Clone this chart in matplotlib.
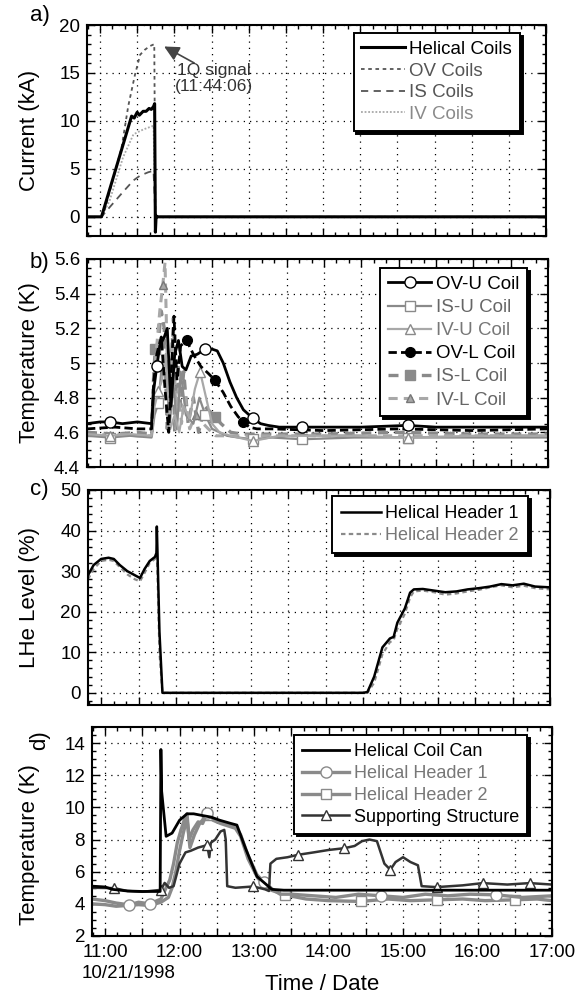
import matplotlib
matplotlib.use("Agg")
import matplotlib.pyplot as plt
import matplotlib.ticker as mticker

plt.rcParams['font.family'] = ['Liberation Sans', 'DejaVu Sans']

# ---------------- data (time in decimal hours) ----------------
# a) coil currents (kA)
t_hel = [10.825, 11.02, 11.425, 11.46, 11.50, 11.53, 11.58, 11.62, 11.66, 11.69, 11.72, 11.735, 11.745, 11.755, 11.77, 17.0]
i_hel = [0, 0, 10.5, 10.3, 10.9, 10.6, 11.0, 11.0, 11.3, 11.2, 11.5, 11.8, -1.6, 0.1, 0, 0]
t_ov = [10.825, 11.02, 11.07, 11.29, 11.38, 11.47, 11.54, 11.60, 11.67, 11.73, 11.745, 11.77, 17.0]
i_ov = [0, 0, 0.9, 7.2, 11.55, 14.8, 16.9, 17.4, 17.8, 18.0, 0.2, 0, 0]
t_is = [10.825, 11.02, 11.13, 11.31, 11.45, 11.54, 11.65, 11.72, 11.745, 11.77, 17.0]
i_is = [0, 0, 1.0, 2.6, 3.8, 4.3, 4.65, 4.8, 0.1, 0, 0]
t_iv = [10.825, 11.02, 11.13, 11.31, 11.45, 11.58, 11.72, 11.745, 11.77, 17.0]
i_iv = [0, 0, 1.7, 6.2, 8.6, 9.1, 9.5, 0.1, 0, 0]

# b) coil temperatures (K)
t_ovu = [10.825, 11.0, 11.13, 11.3, 11.5, 11.69, 11.72, 11.76, 11.80, 11.86, 11.90, 11.95, 12.00, 12.05, 12.10, 12.15, 12.22, 12.30, 12.41, 12.50, 12.57, 12.65, 12.74, 12.83, 12.92, 13.05, 13.15, 13.25, 13.4, 13.71, 14.0, 14.5, 15.12, 15.5, 16.0, 16.5, 17.0]
T_ovu = [4.65, 4.66, 4.66, 4.65, 4.66, 4.65, 4.85, 4.98, 5.10, 5.15, 5.20, 4.75, 5.05, 5.13, 4.98, 4.96, 5.04, 5.05, 5.08, 5.08, 5.07, 5.00, 4.89, 4.80, 4.73, 4.68, 4.65, 4.64, 4.63, 4.63, 4.63, 4.63, 4.64, 4.63, 4.63, 4.63, 4.63]
t_isu = [10.825, 11.13, 11.4, 11.69, 11.73, 11.78, 11.83, 11.88, 11.93, 11.98, 12.03, 12.08, 12.15, 12.25, 12.33, 12.41, 12.5, 12.6, 12.7, 12.85, 13.05, 13.3, 13.71, 14.4, 15.12, 16.0, 17.0]
T_isu = [4.58, 4.57, 4.58, 4.57, 4.70, 4.77, 5.00, 5.05, 4.62, 4.90, 4.62, 4.95, 4.70, 4.65, 4.80, 4.70, 4.62, 4.60, 4.58, 4.57, 4.56, 4.57, 4.56, 4.57, 4.57, 4.57, 4.57]
t_ivu = [10.825, 11.13, 11.4, 11.69, 11.73, 11.78, 11.83, 11.88, 11.94, 12.0, 12.06, 12.12, 12.2, 12.27, 12.34, 12.42, 12.5, 12.6, 12.75, 13.05, 13.4, 14.4, 15.12, 16.0, 17.0]
T_ivu = [4.59, 4.58, 4.59, 4.58, 4.75, 4.84, 4.90, 5.05, 4.62, 4.70, 4.60, 4.75, 4.68, 4.85, 4.95, 4.80, 4.65, 4.60, 4.58, 4.55, 4.58, 4.58, 4.57, 4.58, 4.58]
t_ovl = [10.825, 11.2, 11.5, 11.69, 11.72, 11.76, 11.82, 11.87, 11.92, 11.96, 11.99, 12.03, 12.08, 12.16, 12.25, 12.35, 12.45, 12.54, 12.65, 12.75, 12.85, 12.92, 13.0, 13.1, 13.3, 14.0, 15.0, 16.0, 17.0]
T_ovl = [4.62, 4.63, 4.62, 4.62, 4.90, 5.05, 5.15, 4.85, 4.60, 5.00, 5.27, 4.90, 5.10, 5.13, 5.05, 4.98, 4.94, 4.90, 4.83, 4.75, 4.69, 4.66, 4.63, 4.62, 4.62, 4.61, 4.62, 4.61, 4.62]
t_isl = [10.825, 11.2, 11.5, 11.69, 11.72, 11.74, 11.78, 11.82, 11.86, 11.90, 11.93, 11.97, 12.0, 12.04, 12.08, 12.12, 12.18, 12.25, 12.32, 12.40, 12.47, 12.54, 12.62, 12.75, 12.9, 13.2, 14.0, 15.0, 16.0, 17.0]
T_isl = [4.60, 4.59, 4.60, 4.59, 4.95, 5.08, 5.12, 5.30, 5.20, 4.62, 4.80, 5.15, 4.60, 5.00, 4.75, 4.95, 4.65, 4.80, 4.60, 4.75, 4.72, 4.69, 4.65, 4.60, 4.59, 4.59, 4.59, 4.60, 4.59, 4.59]
t_ivl = [10.825, 11.2, 11.5, 11.69, 11.72, 11.76, 11.80, 11.84, 11.87, 11.89, 11.92, 11.95, 11.98, 12.02, 12.05, 12.09, 12.14, 12.2, 12.28, 12.36, 12.45, 12.55, 12.7, 13.0, 14.0, 15.0, 16.0, 17.0]
T_ivl = [4.58, 4.59, 4.58, 4.58, 4.90, 5.10, 5.30, 5.45, 5.58, 5.20, 4.60, 4.85, 5.26, 4.62, 4.85, 4.65, 4.80, 4.62, 4.70, 4.66, 4.62, 4.58, 4.58, 4.58, 4.58, 4.58, 4.58, 4.58]

# c) LHe level (%)
t_lhe = [10.825, 10.9, 11.0, 11.1, 11.17, 11.25, 11.35, 11.45, 11.52, 11.58, 11.65, 11.72, 11.74, 11.745, 11.76, 11.78, 11.82, 12.5, 13.5, 14.5, 14.56, 14.65, 14.76, 14.86, 14.91, 14.96, 15.06, 15.13, 15.18, 15.3, 15.45, 15.6, 15.75, 15.9, 16.05, 16.2, 16.35, 16.5, 16.65, 16.8, 17.0]
L_lhe1 = [29, 31.5, 33, 33.3, 33.0, 31.5, 30.0, 29.0, 28.3, 30.5, 32.5, 33.5, 34.5, 41, 30, 15, 0, 0, 0, 0, 0.2, 4, 11.2, 13.4, 13.8, 17.3, 20.8, 24.7, 25.5, 25.6, 25.2, 24.8, 25.0, 25.5, 25.8, 26.2, 26.8, 26.5, 26.9, 26.2, 26.0]
L_lhe2 = [28, 30.5, 32.5, 32.8, 32.5, 31, 29.2, 28.0, 27.5, 29.5, 32, 33, 33.5, 35, 25, 10, 0, 0, 0, 0, 0, 2.5, 9.5, 12.5, 13, 15.8, 19.5, 23.5, 25, 25.2, 24.8, 24.2, 24.5, 25.0, 25.4, 26.0, 26.5, 26.0, 26.4, 25.8, 25.5]

# d) structure temperatures (K)
t_can = [10.825, 11.0, 11.1, 11.3, 11.5, 11.74, 11.75, 11.76, 11.82, 11.9, 12.0, 12.1, 12.19, 12.3, 12.42, 12.54, 12.69, 12.77, 12.89, 13.04, 13.14, 13.24, 13.4, 14.0, 15.0, 16.0, 17.0]
T_can = [5.1, 5.05, 4.9, 4.8, 4.77, 4.77, 13.6, 11.0, 8.2, 8.4, 9.2, 9.6, 9.6, 9.5, 9.4, 9.2, 9.0, 8.9, 7.4, 5.7, 5.3, 4.9, 4.85, 4.85, 4.85, 4.85, 4.85]
t_hh1 = [10.825, 11.0, 11.15, 11.32, 11.45, 11.6, 11.75, 11.82, 11.87, 11.92, 11.97, 12.02, 12.07, 12.10, 12.13, 12.18, 12.25, 12.31, 12.37, 12.45, 12.55, 12.65, 12.75, 12.82, 12.92, 13.04, 13.14, 13.25, 13.35, 13.5, 13.8, 14.1, 14.4, 14.71, 15.0, 15.3, 15.6, 15.9, 16.25, 16.6, 17.0]
T_hh1 = [4.3, 4.2, 4.05, 3.94, 4.1, 4.0, 4.3, 5.0, 5.5, 6.5, 7.8, 8.6, 9.3, 9.6, 8.0, 8.6, 9.1, 9.0, 9.64, 9.3, 9.1, 8.95, 8.8, 8.3, 7.0, 5.8, 5.33, 4.9, 4.6, 4.6, 4.5, 4.4, 4.6, 4.5, 4.4, 4.6, 4.5, 4.6, 4.56, 4.4, 4.5]
t_hh2 = [10.825, 11.0, 11.15, 11.3, 11.45, 11.6, 11.75, 11.85, 11.9, 11.95, 12.0, 12.05, 12.1, 12.14, 12.2, 12.27, 12.37, 12.45, 12.55, 12.65, 12.75, 12.82, 12.92, 13.05, 13.2, 13.41, 13.7, 14.0, 14.43, 14.8, 15.1, 15.45, 15.8, 16.1, 16.5, 16.8, 17.0]
T_hh2 = [4.0, 3.95, 3.85, 3.9, 3.95, 3.9, 4.1, 4.4, 5.0, 6.0, 7.3, 8.4, 9.3, 7.5, 8.3, 9.0, 9.54, 9.2, 9.0, 8.85, 8.7, 8.2, 6.8, 5.6, 4.9, 4.56, 4.3, 4.2, 4.15, 4.3, 4.2, 4.25, 4.3, 4.2, 4.25, 4.3, 4.2]
t_sup = [10.825, 11.12, 11.3, 11.5, 11.75, 11.8, 11.86, 11.92, 12.0, 12.08, 12.15, 12.25, 12.33, 12.37, 12.40, 12.42, 12.48, 12.55, 12.60, 12.62, 12.64, 12.75, 12.99, 13.15, 13.2, 13.22, 13.3, 13.45, 13.59, 13.8, 14.0, 14.21, 14.35, 14.45, 14.55, 14.65, 14.75, 14.83, 14.9, 15.0, 15.1, 15.2, 15.25, 15.45, 15.8, 16.07, 16.4, 16.7, 17.0]
T_sup = [5.0, 4.98, 4.8, 4.75, 4.87, 5.3, 5.0, 5.1, 6.5, 7.2, 7.3, 7.5, 7.6, 7.67, 6.9, 7.8, 8.0, 8.5, 8.6, 8.0, 5.1, 5.0, 5.08, 4.9, 4.8, 6.5, 6.8, 6.9, 7.05, 7.2, 7.35, 7.46, 7.6, 7.9, 8.0, 7.9, 6.5, 6.12, 6.6, 6.9, 6.6, 6.4, 5.1, 5.04, 5.15, 5.29, 5.2, 5.29, 5.2]

hour_labels = ['11:00', '12:00', '13:00', '14:00', '15:00', '16:00', '17:00']
date_label = '10/21/1998'

# ---------------- figure ----------------
W, H = 578, 994
fig = plt.figure(figsize=(W / 100, H / 100), dpi=100)

def rect(l, r, t, b):
    return [l / W, 1 - b / H, (r - l) / W, (b - t) / H]

GRAY = '#8a8a8a'
LGRAY = '#a8a8a8'
TICKFS = 13.5
LABFS = 16
LEGFS = 13.5
ANNFS = 12.5

def style(ax, ylim, ymaj, ymin, xlabels=False):
    ax.set_xlim(10.825, 17.0)
    ax.set_ylim(*ylim)
    ax.xaxis.set_major_locator(mticker.MultipleLocator(0.5))
    ax.xaxis.set_minor_locator(mticker.MultipleLocator(1 / 6))
    ax.yaxis.set_major_locator(mticker.MultipleLocator(ymaj))
    ax.yaxis.set_minor_locator(mticker.MultipleLocator(ymin))
    ax.tick_params(which='both', direction='in', top=True, right=True, labelsize=TICKFS, width=1.0)
    ax.tick_params(which='major', length=6)
    ax.tick_params(which='minor', length=3)
    ax.tick_params(axis='y', pad=5)
    ax.grid(True, which='major', color='black', linestyle=(0, (1, 4)), linewidth=0.9)
    for s in ax.spines.values():
        s.set_linewidth(1.5)
    if xlabels:
        def fmt(v, pos):
            if abs(v - round(v)) < 1e-6 and 11 <= round(v) <= 17:
                return hour_labels[int(round(v)) - 11]
            return ''
        ax.xaxis.set_major_formatter(mticker.FuncFormatter(fmt))
    else:
        ax.xaxis.set_major_formatter(mticker.NullFormatter())

def make_legend(ax, handles, labels, anchor, colors, spacing, pad=0.45, hl=2.4, fs=LEGFS):
    leg = ax.legend(handles, labels, loc='upper right', bbox_to_anchor=anchor, fontsize=fs,
                    fancybox=False, edgecolor='black', framealpha=1,
                    shadow={'color': 'black', 'alpha': 1.0}, handlelength=hl,
                    labelspacing=spacing, borderpad=pad, handletextpad=0.25, borderaxespad=0)
    leg.get_frame().set_linewidth(1.4)
    for txt, c in zip(leg.get_texts(), colors):
        txt.set_color(c)
    return leg

def ordered(ax, want):
    h, l = ax.get_legend_handles_labels()
    return [h[l.index(w)] for w in want], want

def ylabel(ax, text, x_px, y_px=None):
    ax.set_ylabel(text, fontsize=LABFS)
    bb = ax.get_position()
    xa = (x_px / W - bb.x0) / bb.width
    ya = 0.5 if y_px is None else ((1 - y_px / H) - bb.y0) / bb.height
    ax.yaxis.set_label_coords(xa, ya)

# ---- a) ----
ax1 = fig.add_axes(rect(87, 546, 25, 236))
ax1.plot(t_iv, i_iv, color=LGRAY, lw=1.3, linestyle=(0, (1, 1)), label='IV Coils')
ax1.plot(t_is, i_is, color='#555555', lw=1.3, linestyle=(0, (4, 3)), label='IS Coils')
ax1.plot(t_ov, i_ov, color='#555555', lw=1.3, linestyle=(0, (2, 2)), label='OV Coils')
ax1.plot(t_hel, i_hel, color='black', lw=2.2, label='Helical Coils')
style(ax1, (-2, 20), 5, 1)
ax1.yaxis.set_major_formatter(mticker.FuncFormatter(lambda v, p: f'{v:g}'))
hh, ll = ordered(ax1, ['Helical Coils', 'OV Coils', 'IS Coils', 'IV Coils'])
make_legend(ax1, hh, ll, (0.943, 0.962), ['black', '#555555', '#555555', '#8a8a8a'], 0.24, pad=0.42, hl=2.3)
ylabel(ax1, 'Current (kA)', 40)
ax1.annotate('', xy=(11.83, 17.9), xytext=(12.30, 15.9),
             arrowprops=dict(arrowstyle='-|>,head_length=0.9,head_width=0.45', color='#444444', lw=1.2))
ax1.text(12.53, 14.4, '1Q signal\n(11:44:06)', fontsize=ANNFS, color='#333333', ha='center', va='center',
         linespacing=1.1)

# ---- b) ----
ax2 = fig.add_axes(rect(87, 548, 259, 467))
ax2.plot(t_isl, T_isl, color=GRAY, lw=2.4, linestyle=(0, (3, 2)), marker='s', ms=6.5, mfc=GRAY, mec=GRAY,
         markevery=[5, 21], label='IS-L Coil')
ax2.plot(t_ivl, T_ivl, color=LGRAY, lw=2.2, linestyle=(0, (3, 2)), marker='^', ms=6, mfc=LGRAY, mec='#777777',
         markevery=[7, 18], label='IV-L Coil')
ax2.plot(t_isu, T_isu, color=GRAY, lw=1.6, marker='s', ms=7, mfc='white', mec=GRAY,
         markevery=[1, 5, 15, 20, 22, 24], label='IS-U Coil')
ax2.plot(t_ivu, T_ivu, color=LGRAY, lw=1.6, marker='^', ms=7, mfc='white', mec=GRAY,
         markevery=[1, 5, 14, 19, 22], label='IV-U Coil')
ax2.plot(t_ovl, T_ovl, color='black', lw=2.0, linestyle=(0, (3, 1.5)), marker='o', ms=7, mfc='black', mec='black',
         markevery=[13, 17, 21], label='OV-L Coil')
ax2.plot(t_ovu, T_ovu, color='black', lw=2.0, marker='o', ms=8, mfc='white', mec='black',
         markevery=[2, 7, 18, 25, 29, 32], label='OV-U Coil')
style(ax2, (4.4, 5.6), 0.2, 0.05)
ax2.yaxis.set_major_formatter(mticker.FuncFormatter(lambda v, p: f'{v:.1f}'.rstrip('0').rstrip('.')))
hh, ll = ordered(ax2, ['OV-U Coil', 'IS-U Coil', 'IV-U Coil', 'OV-L Coil', 'IS-L Coil', 'IV-L Coil'])
make_legend(ax2, hh, ll, (0.955, 0.957), ['black', '#666666', '#777777', 'black', '#666666', '#666666'],
            0.32, pad=0.42, hl=2.3)
ylabel(ax2, 'Temperature (K)', 40)

# ---- c) ----
ax3 = fig.add_axes(rect(88, 550, 490, 705))
ax3.plot(t_lhe, L_lhe2, color=GRAY, lw=1.6, linestyle=(0, (2, 1.5)), label='Helical Header 2')
ax3.plot(t_lhe, L_lhe1, color='black', lw=1.8, label='Helical Header 1')
style(ax3, (-3, 50), 10, 2)
ax3.yaxis.set_major_formatter(mticker.FuncFormatter(lambda v, p: f'{v:g}'))
hh, ll = ordered(ax3, ['Helical Header 1', 'Helical Header 2'])
make_legend(ax3, hh, ll, (0.952, 0.972), ['black', '#777777'], 0.3, pad=0.5, hl=2.2, fs=13)
ylabel(ax3, 'LHe Level (%)', 40)

# ---- d) ----
ax4 = fig.add_axes(rect(92, 552, 727, 936))
ax4.plot(t_hh2, T_hh2, color=GRAY, lw=2.4, marker='s', ms=7.5, mfc='white', mec=GRAY,
         markevery=[16, 25, 28, 31, 34], label='Helical Header 2')
ax4.plot(t_hh1, T_hh1, color=GRAY, lw=2.4, marker='o', ms=8, mfc='white', mec=GRAY,
         markevery=[3, 5, 18, 26, 33, 38], label='Helical Header 1')
ax4.plot(t_sup, T_sup, color='#333333', lw=1.8, marker='^', ms=7.5, mfc='white', mec='#333333',
         markevery=[1, 4, 13, 22, 28, 31, 37, 43, 45, 47], label='Supporting Structure')
ax4.plot(t_can, T_can, color='black', lw=2.0, label='Helical Coil Can')
style(ax4, (2, 15), 2, 0.5, xlabels=True)
ax4.yaxis.set_major_formatter(mticker.FuncFormatter(lambda v, p: f'{v:g}'))
ax4.tick_params(axis='x', pad=6)
hh, ll = ordered(ax4, ['Helical Coil Can', 'Helical Header 1', 'Helical Header 2', 'Supporting Structure'])
make_legend(ax4, hh, ll, (0.946, 0.96), ['black', '#777777', '#777777', 'black'], 0.26, pad=0.45, hl=2.6, fs=13)
ylabel(ax4, 'Temperature (K)', 40, 845)

# x-axis label and date under the first tick label
fig.text(322 / W, 1 - 984 / H, 'Time / Date', fontsize=LABFS, ha='center', va='center')
fig.text(82 / W, 1 - 973 / H, date_label, fontsize=TICKFS, ha='left', va='center')

# panel letters
fig.text(30 / W, 1 - 16 / H, 'a)', fontsize=LABFS, ha='left', va='center')
fig.text(30 / W, 1 - 262 / H, 'b)', fontsize=LABFS, ha='left', va='center')
fig.text(30 / W, 1 - 490 / H, 'c)', fontsize=LABFS, ha='left', va='center')
fig.text(40 / W, 1 - 740 / H, 'd)', fontsize=LABFS, ha='center', va='center', rotation=90)

fig.savefig('out.png', dpi=100)
